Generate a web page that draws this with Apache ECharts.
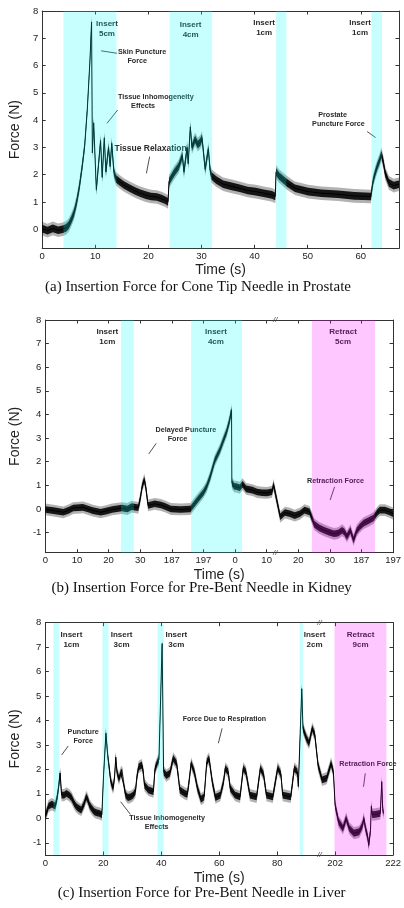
<!DOCTYPE html>
<html>
<head>
<meta charset="utf-8">
<script src="https://cdn.jsdelivr.net/npm/echarts@6/dist/echarts.min.js"></script>
<style>
  html, body { margin: 0; padding: 0; background: #fff; }
  #chart { width: 404px; height: 908px; }
</style>
</head>
<body>
<div id="chart"></div>
<script>
// (a) Cone tip needle in prostate: time (s) and force (N)
const timeA = [0, 1, 2, 3, 3.9, 4.5, 5, 5.5, 6, 6.5, 7, 7.5, 8, 8.5, 9, 9.3, 9.45, 9.7, 10.2,
  11.0, 11.3, 11.7, 12.0, 12.5, 12.8, 13.1, 13.5, 13.9, 14.5, 15.4, 16.5, 17.5, 18.5, 19.5,
  20.5, 21.6, 22.5, 23.1, 23.7, 23.9, 24.8, 25.7, 26.4, 26.7, 27.3, 27.5, 27.9, 28.2, 28.8,
  29.3, 29.8, 30.1, 30.7, 31.3, 31.6, 31.9, 32.8, 34.1, 35.5, 37.2, 38.7, 40.2, 41.7, 43.3,
  43.9, 44.05, 44.6, 45.2, 46.1, 47.6, 50.1, 52.6, 55.7, 58.8, 61.9, 62.3, 62.7, 63.1, 63.5,
  63.9, 64.3, 64.6, 65.3, 66.2, 67.2];
const forceA = [0.02, -0.05, 0.03, -0.04, 0.0, 0.05, 0.15, 0.35, 0.6, 1.0, 1.55, 2.25, 3.05, 4.4, 6.2, 7.6, 2.8, 3.9, 1.45,
  3.25, 1.9, 3.35, 2.1, 3.0, 2.3, 3.15, 2.1, 1.85, 1.75, 1.62, 1.5, 1.4, 1.32, 1.25,
  1.2, 1.18, 1.12, 1.07, 1.0, 1.75, 2.05, 2.3, 2.7, 2.1, 3.0, 2.4, 3.75, 3.0, 3.3,
  3.1, 3.2, 3.35, 2.2, 2.95, 2.2, 1.95, 1.8, 1.65, 1.58, 1.5, 1.42, 1.38, 1.32, 1.26,
  1.2, 2.1, 1.95, 1.85, 1.7, 1.5, 1.38, 1.32, 1.28, 1.22, 1.2, 1.75, 2.05, 2.3, 2.5,
  2.75, 2.4, 2.05, 1.7, 1.6, 1.65];

// (b) Pre-bent needle in kidney: position along the broken time axis and force (N)
const posB = [0, 2.6, 5.7, 7.5, 8.8, 11.9, 13.5, 15, 17.5, 19.5, 21.1, 24.2, 26, 27.3, 29.4, 30.1,
  30.6, 31.3, 31.8, 32.5, 34.6, 36.6, 38, 39.7, 42.8, 45.9, 47.9, 50, 51, 52.1, 53.6, 55.2,
  56.3, 57.3, 58.2, 58.9, 59.0, 59.8, 60.4, 61.5, 62.4, 63.5, 65.5, 67, 68.6, 70.2, 71.7,
  72.2, 74.3, 75.8, 77.4, 78.9, 80.5, 82, 83.6, 85.1, 86.6, 88.2, 89.7, 91.3, 92.6, 93.9,
  94.6, 95.4, 96.5, 97.5, 98.5, 99.5, 100.7, 102.2, 103.8, 105, 105.8, 107.4, 108.9, 110];
const forceB = [-0.02, -0.07, -0.14, -0.05, 0.04, 0.07, 0.0, -0.07, -0.14, -0.08, -0.02, 0.04, 0.0, 0.1, 0.05, 0.5,
  0.94, 1.25, 0.9, 0.15, 0.22, 0.17, 0.1, 0.0, -0.02, 0.0, 0.35, 0.7, 0.94, 1.35, 2.05, 2.5,
  2.9, 3.25, 3.7, 4.2, 1.1, 0.95, 0.95, 0.9, 1.05, 0.85, 0.8, 0.72, 0.69, 0.68, 0.73,
  1.02, -0.33, -0.15, -0.2, -0.28, -0.2, -0.05, -0.12, -0.65, -0.8, -0.9, -0.98, -1.05, -1.02, -0.9,
  -0.98, -1.17, -0.9, -1.32, -0.92, -0.75, -0.6, -0.5, -0.38, -0.15, -0.05, -0.05, -0.12, -0.2];
const tickLabelsB = ['0', '10', '20', '30', '187', '197', '0', '10', '20', '30', '187', '197'];

// (c) Pre-bent needle in liver: position along the broken time axis and force (N)
const posC = [0, 0.6, 1.1, 2.25, 3.4, 4.0, 4.5, 5.1, 5.6, 6.5, 7.3, 8.2, 9, 10, 10.7, 11.5, 12.4,
  13.4, 14.1, 14.7, 15.2, 16, 16.9, 17.8, 18.6, 19.5, 20.1, 20.9, 21.5, 22.0, 22.6, 23.4, 23.9,
  24.3, 24.7, 25.4, 26, 26.5, 27.2, 27.7, 28.5, 29.4, 30.3, 31.1, 31.6, 32.2, 33.3, 33.8, 34.2,
  35.6, 37.3, 37.8, 38.7, 39.2, 40.3, 40.8, 41.8, 43, 44.1, 45.3, 45.9, 46.4, 48.1, 49.0, 49.7,
  50.3, 51.4, 52.5, 53.7, 54.8, 55.7, 56.5, 57.6, 58.7, 60.4, 61.5, 62.1, 63.1, 63.8, 65.5, 67.2,
  68.3, 69.2, 70.6, 72.9, 74.2, 75.3, 76.3, 78.5, 80.2, 81.3, 81.9, 84.7, 85.9, 87, 87.3, 88.5,
  88.9, 90.1, 91, 92.1, 93, 94.1, 95.5, 97.1, 98.6, 99.4, 100, 101.2, 102.7, 103.3, 103.8, 104.9,
  106.5, 108.3, 109.4, 109.9, 110.5, 111.3, 111.6, 112.2, 112.5, 112.8, 113.9, 115.6, 116.1, 116.4, 116.7];
const forceC = [0.1, 0.3, 0.5, 0.58, 0.5, 0.8, 1.2, 1.85, 0.95, 0.95, 1.02, 0.95, 0.85, 0.6, 0.48, 0.4, 0.34,
  0.6, 0.88, 0.75, 0.55, 0.4, 0.27, 0.22, 0.2, 0.14, 1.77, 3.48, 2.6, 2.1, 1.5, 1.23, 1.7,
  2.5, 1.9, 1.6, 1.85, 1.9, 1.3, 0.95, 0.85, 0.88, 0.95, 1.1, 1.7, 2.1, 2.18, 1.9, 1.36,
  1.16, 1.09, 2.0, 2.3, 2.4, 7.15, 1.9, 1.75, 1.85, 2.45, 2.25, 1.7, 1.16, 1.02, 0.98, 1.6,
  2.25, 1.9, 1.23, 0.78, 0.88, 2.3, 2.45, 1.5, 0.85, 0.95, 1.5, 2.04, 1.9, 1.23, 0.95, 0.88,
  2.04, 1.9, 0.95, 0.88, 2.04, 1.8, 0.95, 0.88, 2.06, 1.8, 0.95, 0.88, 2.04, 1.9, 1.3, 5.3,
  3.68, 3.27, 3.07, 3.68, 3.41, 2.18, 1.57, 1.64, 2.25, 1.9, 0.54, -0.14, -0.41, -0.2, 0.0, -0.41,
  -0.61, -0.55, -0.3, 0.0, -0.41, -0.8, -1.1, -0.5, 0.5, 0.15, 0.16, 0.2, 1.5, 0.4, 0.2];
const tickLabelsC = ['0', '20', '40', '60', '80', '202', '222'];

// Needle phases: [start, end, kind]
const phasesA = [[4, 14, 'insert'], [24, 32, 'insert'], [44, 46, 'insert'], [62, 64, 'insert']];
const phasesB = [[23.9, 28, 'insert'], [46.1, 62.2, 'insert'], [84.3, 104.3, 'retract']];
const phasesC = [[2.8, 4.8, 'insert'], [19.7, 21.8, 'insert'], [38.7, 40.8, 'insert'], [87.8, 88.9, 'insert'], [99.8, 117.7, 'retract']];

// Annotations (data coordinates)
const notesA = [
  { at: [12.2, 7.34], text: 'Insert\n5cm', size: 8 },
  { at: [27.96, 7.3], text: 'Insert\n4cm', size: 8 },
  { at: [41.8, 7.38], text: 'Insert\n1cm', size: 8 },
  { at: [59.87, 7.38], text: 'Insert\n1cm', size: 8 },
  { at: [18.83, 6.48], text: 'Skin Puncture', size: 7.2 },
  { at: [17.9, 6.16], text: 'Force', size: 7.2 },
  { at: [21.4, 4.84], text: 'Tissue Inhomogeneity', size: 7.2 },
  { at: [19.0, 4.52], text: 'Effects', size: 7.2 },
  { at: [20.43, 2.97], text: 'Tissue Relaxation', size: 8.5 },
  { at: [54.7, 4.18], text: 'Prostate', size: 7.2 },
  { at: [55.8, 3.86], text: 'Puncture Force', size: 7.2 }
];
const arrowsA = [[[14.07, 6.45], [11.1, 6.54]], [[14.2, 4.37], [12.2, 3.88]], [[20.24, 2.66], [19.63, 2.05]], [[61.2, 3.58], [62.8, 3.36]]];

const notesB = [
  { at: [19.6, 7.29], text: 'Insert\n1cm', size: 8 },
  { at: [53.96, 7.3], text: 'Insert\n4cm', size: 8 },
  { at: [94.2, 7.3], text: 'Retract\n5cm', size: 8 },
  { at: [44.46, 3.35], text: 'Delayed Puncture', size: 7.2 },
  { at: [41.8, 2.97], text: 'Force', size: 7.2 },
  { at: [91.8, 1.2], text: 'Retraction Force', size: 7.2 }
];
const arrowsB = [[[35.08, 2.78], [32.7, 2.33]], [[91.5, 0.94], [90.1, 0.38]]];

const notesC = [
  { at: [9.0, 7.29], text: 'Insert\n1cm', size: 8 },
  { at: [26.3, 7.29], text: 'Insert\n3cm', size: 8 },
  { at: [45.2, 7.29], text: 'Insert\n3cm', size: 8 },
  { at: [92.9, 7.29], text: 'Insert\n2cm', size: 8 },
  { at: [108.8, 7.29], text: 'Retract\n9cm', size: 8 },
  { at: [13.05, 3.36], text: 'Puncture\nForce', size: 7.2 },
  { at: [42.0, 0.0], text: 'Tissue Inhomogeneity', size: 7.2 },
  { at: [38.4, -0.34], text: 'Effects', size: 7.2 },
  { at: [61.8, 4.06], text: 'Force Due to Respiration', size: 7 },
  { at: [111.3, 2.21], text: 'Retraction Force', size: 7.2 }
];
const arrowsC = [[[7.9, 2.96], [5.63, 2.59]], [[29.36, 0.16], [25.97, 0.68]], [[61.0, 3.68], [59.7, 3.07]], [[110.4, 1.84], [109.8, 1.29]]];

const SANS = 'Liberation Sans, Arial, Helvetica, sans-serif';
const SERIF = 'Liberation Serif, Times New Roman, serif';
const AXIS_COLOR = '#333';
const PHASE_COLORS = { insert: 'rgba(0,255,255,0.22)', retract: 'rgba(255,0,255,0.22)' };
const HALF_OUTER = 0.25;  // outer half-width of the trace envelope (N)
const HALF_INNER = 0.14;  // inner half-width of the trace envelope (N)

const panels = [
  { grid: { left: 36, top: 11, width: 363, height: 237.3 },
    x: [0, 67.2], xTicks: [0, 10, 20, 30, 40, 50, 60], xFmt: v => String(v),
    y: [-0.7, 8], yTicks: [0, 1, 2, 3, 4, 5, 6, 7, 8],
    xs: timeA, ys: forceA, phases: phasesA, notes: notesA, arrows: arrowsA, breakAt: null,
    nameGapX: 15, nameGapY: 9 },
  { grid: { left: 41.7, top: 320, width: 356, height: 232.7 },
    x: [0, 110], xTicks: [0, 10, 20, 30, 40, 50, 60, 70, 80, 90, 100, 110],
    xFmt: v => tickLabelsB[Math.round(v / 10)],
    y: [-1.85, 8], yTicks: [-1, 0, 1, 2, 3, 4, 5, 6, 7, 8],
    xs: posB, ys: forceB, phases: phasesB, notes: notesB, arrows: arrowsB, breakAt: 72.75,
    nameGapX: 15, nameGapY: 12 },
  { grid: { left: 41.7, top: 622.7, width: 355, height: 232.3 },
    x: [0, 120], xTicks: [0, 20, 40, 60, 80, 100, 120],
    xFmt: v => tickLabelsC[Math.round(v / 20)],
    y: [-1.5, 8], yTicks: [-1, 0, 1, 2, 3, 4, 5, 6, 7, 8],
    xs: posC, ys: forceC, phases: phasesC, notes: notesC, arrows: arrowsC, breakAt: 94.6,
    nameGapX: 16, nameGapY: 12 }
];

const xAxes = [], yAxes = [], grids = [], series = [];

function frameAxis(kind, g, range, ticks, fmt, pos, withLabels, name, gap) {
  const ax = {
    type: 'value', gridIndex: g, min: range[0], max: range[1], position: pos,
    axisLine: { show: true, onZero: false, lineStyle: { color: AXIS_COLOR, width: 1 } },
    axisTick: { show: true, inside: true, length: 3.5, customValues: ticks, lineStyle: { color: AXIS_COLOR, width: 1 } },
    axisLabel: { show: withLabels, customValues: ticks, formatter: fmt, color: '#222', fontSize: 9.5, fontFamily: SANS, margin: kind === 'x' ? 3 : 4 },
    splitLine: { show: false }
  };
  if (name) {
    ax.name = name;
    ax.nameLocation = 'middle';
    ax.nameGap = gap;
    ax.nameTextStyle = { color: '#222', fontSize: 14, fontFamily: SANS };
  }
  return ax;
}

function envelope(xs, ys, half, fill, xi, yi, z) {
  return {
    type: 'custom', xAxisIndex: xi, yAxisIndex: yi, z: z, silent: true,
    data: [[xs[0], ys[0]]],
    renderItem(params, api) {
      const upper = xs.map((x, i) => api.coord([x, ys[i] + half]));
      const lower = xs.map((x, i) => api.coord([x, ys[i] - half])).reverse();
      return { type: 'polygon', shape: { points: upper.concat(lower) }, style: { fill: fill } };
    }
  };
}

panels.forEach((p, g) => {
  grids.push(p.grid);
  const xi = xAxes.length, yi = yAxes.length;
  xAxes.push(frameAxis('x', g, p.x, p.xTicks, p.xFmt, 'bottom', true, 'Time (s)', p.nameGapX));
  xAxes.push(frameAxis('x', g, p.x, p.xTicks, p.xFmt, 'top', false));
  yAxes.push(frameAxis('y', g, p.y, p.yTicks, v => String(v), 'left', true, 'Force (N)', p.nameGapY));
  yAxes.push(frameAxis('y', g, p.y, p.yTicks, v => String(v), 'right', false));

  series.push(envelope(p.xs, p.ys, HALF_OUTER, 'rgba(0,0,0,0.3)', xi, yi, 2));
  series.push(envelope(p.xs, p.ys, HALF_INNER, 'rgba(0,0,0,0.88)', xi, yi, 2));

  const marks = p.notes.map(n => ({
    coord: n.at,
    label: { formatter: n.text, fontSize: n.size, lineHeight: n.size + 2 }
  }));
  if (p.breakAt !== null) {
    [p.y[1], p.y[0]].forEach(yv => marks.push({
      coord: [p.breakAt, yv],
      label: { formatter: '//', fontSize: 8, fontStyle: 'italic', fontWeight: 'normal', color: '#444' }
    }));
  }

  series.push({
    type: 'line', xAxisIndex: xi, yAxisIndex: yi, z: 3,
    data: p.xs.map((x, i) => [x, p.ys[i]]),
    showSymbol: false, silent: true,
    lineStyle: { color: '#000', width: 1 },
    markPoint: {
      symbol: 'circle', symbolSize: 1, silent: true,
      itemStyle: { color: 'rgba(0,0,0,0)' },
      label: { show: true, position: 'inside', color: '#2a2a2a', fontFamily: SANS, fontWeight: 'bold' },
      data: marks
    },
    markLine: {
      silent: true, symbol: ['none', 'arrow'], symbolSize: [0, 5],
      lineStyle: { color: '#222', width: 0.8, type: 'solid' },
      label: { show: false },
      data: p.arrows.map(a => [{ coord: a[0] }, { coord: a[1] }])
    }
  });

  // translucent phase bands laid over the trace
  series.push({
    type: 'line', xAxisIndex: xi, yAxisIndex: yi, data: [], silent: true,
    markArea: {
      silent: true, z: 10,
      data: p.phases.map(ph => [
        { xAxis: ph[0], itemStyle: { color: PHASE_COLORS[ph[2]] } },
        { xAxis: ph[1] }
      ])
    }
  });
});

const chart = echarts.init(document.getElementById('chart'), null, { renderer: 'canvas' });
chart.setOption({
  animation: false,
  backgroundColor: '#fff',
  grid: grids,
  xAxis: xAxes,
  yAxis: yAxes,
  series: series,
  graphic: [
    { type: 'text', x: 198, y: 287, style: { text: '(a) Insertion Force for Cone Tip Needle in Prostate', font: '15px ' + SERIF, fill: '#111', textAlign: 'center', textVerticalAlign: 'middle' } },
    { type: 'text', x: 201.7, y: 588.3, style: { text: '(b) Insertion Force for Pre-Bent Needle in Kidney', font: '15px ' + SERIF, fill: '#111', textAlign: 'center', textVerticalAlign: 'middle' } },
    { type: 'text', x: 201.7, y: 893, style: { text: '(c) Insertion Force for Pre-Bent Needle in Liver', font: '15px ' + SERIF, fill: '#111', textAlign: 'center', textVerticalAlign: 'middle' } }
  ]
});
</script>
</body>
</html>
